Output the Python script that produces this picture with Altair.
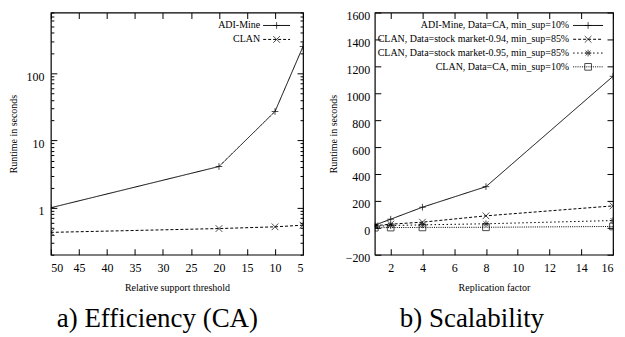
import altair as alt
import pandas as pd

# ---------------- data: panel a (log scale) ----------------
thr = [50, 20, 10, 5]
adi_a = [1.0, 4.1, 27, 250]
clan_a = [0.43, 0.49, 0.52, 0.55]
series_a = ["ADI-Mine", "CLAN"]

# ---------------- data: panel b ----------------
rep = [1, 2, 4, 8, 16]
adi_b = [20, 64, 153, 306, 1126]
clan94_b = [15, 27, 42, 89, 163]
clan95_b = [10, 17, 22, 30, 54]
clanca_b = [1, 2, 3, 4, 10]
series_b = [
    "ADI-Mine, Data=CA, min_sup=10%",
    "CLAN, Data=stock market-0.94, min_sup=85%",
    "CLAN, Data=stock market-0.95, min_sup=85%",
    "CLAN, Data=CA, min_sup=10%",
]

xt_a = [50, 45, 40, 35, 30, 25, 20, 15, 10, 5]
yt_a = [1, 10, 100]
ym_a = [0.2, 0.3, 0.4, 0.5, 0.6, 0.7, 0.8, 0.9, 2, 3, 4, 5, 6, 7, 8, 9,
        20, 30, 40, 50, 60, 70, 80, 90, 200, 300, 400, 500, 600, 700, 800]
xt_b = [2, 4, 6, 8, 10, 12, 14, 16]
yt_b = [-200, 0, 200, 400, 600, 800, 1000, 1200, 1400, 1600]

PLUS = "M-1,0L1,0M0,-1L0,1"
XMARK = "M-1,-1L1,1M-1,1L1,-1"
STAR = "M-1,0L1,0M0,-1L0,1M-0.75,-0.75L0.75,0.75M-0.75,0.75L0.75,-0.75"
SQUARE = "M-1,-1L1,-1L1,1L-1,1Z"

df_a = pd.DataFrame({
    "x": thr * 2,
    "y": adi_a + clan_a,
    "series": [series_a[0]] * len(thr) + [series_a[1]] * len(thr),
})
df_b = pd.DataFrame({
    "x": rep * 4,
    "y": adi_b + clan94_b + clan95_b + clanca_b,
    "series": sum([[s] * len(rep) for s in series_b], []),
})

FONT = "Liberation Serif"


def tick_axis(orient, offset, values, size):
    return alt.Axis(orient=orient, offset=offset, values=values, labels=False,
                    ticks=True, tickSize=size, tickColor="black", tickWidth=1,
                    domain=False, grid=False, title=None)


def panel(df, order, shapes, dashes, xscale, yscale, xvals, yvals, yminor,
          W, H, xtitle, ytitle, caption, yfmt, leg_tx, leg_x1, leg_x2,
          leg_yr, ylabpad):
    base = alt.Chart(df)
    dash_scale = alt.Scale(domain=order, range=dashes)
    shape_scale = alt.Scale(domain=order, range=shapes)

    lab_x = alt.Axis(orient="bottom", values=xvals, ticks=False, domain=False,
                     grid=False, labelFontSize=12, labelFont=FONT,
                     labelColor="black", labelPadding=8, title=xtitle,
                     titleFont=FONT, titleFontSize=10, titleFontWeight="normal",
                     titleColor="black", titlePadding=9)
    lab_y = alt.Axis(orient="left", values=yvals, ticks=False, domain=False,
                     grid=False, labelFontSize=12, labelFont=FONT,
                     labelColor="black", labelPadding=ylabpad, format=yfmt,
                     labelOffset=3,
                     title=ytitle, titleFont=FONT, titleFontSize=10,
                     titleFontWeight="normal", titleColor="black",
                     titlePadding=7)

    lines = base.mark_line(color="black", strokeWidth=1, clip=True).encode(
        x=alt.X("x:Q", scale=xscale, axis=lab_x),
        y=alt.Y("y:Q", scale=yscale, axis=lab_y),
        strokeDash=alt.StrokeDash("series:N", scale=dash_scale, legend=None),
        detail="series:N",
    )
    points = base.mark_point(color="black", filled=False, size=45,
                             strokeWidth=1, clip=True).encode(
        x=alt.X("x:Q", scale=xscale, axis=None),
        y=alt.Y("y:Q", scale=yscale, axis=None),
        shape=alt.Shape("series:N", scale=shape_scale, legend=None),
    )
    t1 = base.mark_point(opacity=0).encode(
        x=alt.X("x:Q", scale=xscale, axis=tick_axis("top", -H, xvals, 6)),
        y=alt.Y("y:Q", scale=yscale, axis=tick_axis("right", -W, yvals, 6)),
    )
    t2 = base.mark_point(opacity=0).encode(
        x=alt.X("x:Q", scale=xscale, axis=tick_axis("bottom", -H, xvals, 6)),
        y=alt.Y("y:Q", scale=yscale, axis=tick_axis("left", -W, yvals, 6)),
    )
    layers = [lines, points, t1, t2]
    if yminor:
        t3 = base.mark_point(opacity=0).encode(
            x=alt.X("x:Q", scale=xscale, axis=None),
            y=alt.Y("y:Q", scale=yscale, axis=tick_axis("right", -W, yminor, 3)),
        )
        t4 = base.mark_point(opacity=0).encode(
            x=alt.X("x:Q", scale=xscale, axis=None),
            y=alt.Y("y:Q", scale=yscale, axis=tick_axis("left", -W, yminor, 3)),
        )
        layers += [t3, t4]
    inner = alt.layer(*layers).resolve_axis(x="independent", y="independent")

    leg = alt.Chart(pd.DataFrame({"series": order}))
    ly = alt.Y("series:N", axis=None,
               scale=alt.Scale(type="point", domain=order, range=leg_yr, padding=0))
    leg_text = leg.mark_text(align="right", baseline="middle", font=FONT,
                             fontSize=10, color="black").encode(
        x=alt.value(leg_tx), y=ly, text="series:N")
    leg_rule = leg.mark_rule(color="black", strokeWidth=1).encode(
        x=alt.value(leg_x1), x2=alt.value(leg_x2), y=ly,
        strokeDash=alt.StrokeDash("series:N", scale=dash_scale, legend=None))
    leg_pt = leg.mark_point(color="black", filled=False, size=45,
                            strokeWidth=1).encode(
        x=alt.value((leg_x1 + leg_x2) / 2), y=ly,
        shape=alt.Shape("series:N", scale=shape_scale, legend=None))

    return alt.layer(inner, leg_rule, leg_pt, leg_text).resolve_scale(
        y="independent").properties(
        width=W, height=H,
        title=alt.TitleParams(caption, orient="bottom", anchor="middle",
                              frame="bounds", font=FONT,
                              fontSize=27, fontWeight="normal", color="black",
                              offset=14),
    )


pa = panel(df_a, series_a, [PLUS, XMARK], [[1, 0], [3, 2]],
           alt.Scale(domain=[5, 50], reverse=True, nice=False),
           alt.Scale(type="log", domain=[0.2, 800], nice=False),
           xt_a, yt_a, ym_a, 253, 243,
           "Relative support threshold", "Runtime in seconds",
           "a) Efficiency (CA)", "d", 210, 213, 240, [13, 27], 7)

pb = panel(df_b, series_b, [PLUS, XMARK, STAR, SQUARE],
           [[1, 0], [3, 2], [1.5, 2.5], [1, 1.2]],
           alt.Scale(domain=[1, 16], nice=False),
           alt.Scale(domain=[-200, 1600], nice=False),
           xt_b, yt_b, None, 239, 243,
           "Replication factor", "Runtime in seconds",
           "b) Scalability", "d", 195, 199, 229, [13, 54.5], 5)

chart = alt.hconcat(pa, pb, spacing=20).resolve_scale(
    shape="independent", strokeDash="independent"
).properties(
    padding={"left": 0, "top": 0, "right": 0, "bottom": 0}
).configure(
    background="white"
).configure_view(stroke="black", strokeWidth=1.2)

chart.save("out.html", embed_options={"renderer": "svg", "actions": False})
